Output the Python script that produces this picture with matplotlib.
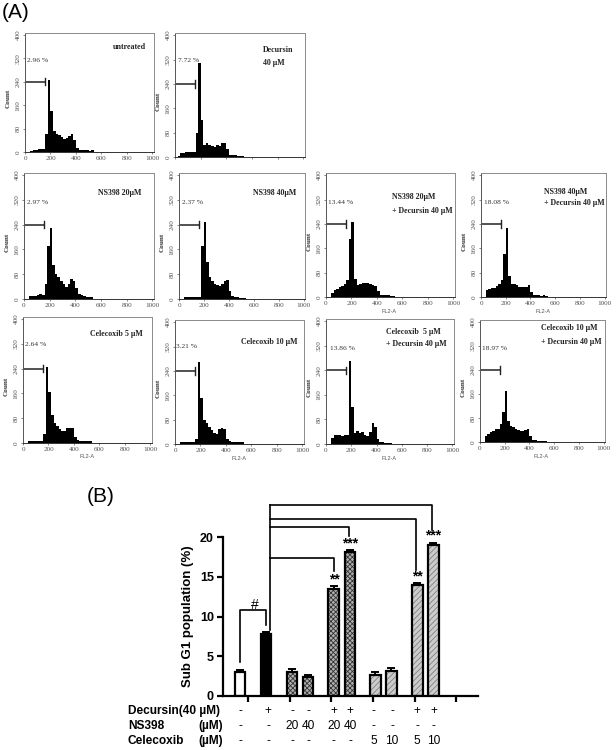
import matplotlib
matplotlib.use('Agg')
import numpy as np
from matplotlib import pyplot as plt

W, H = 616, 750
SANS = ['Liberation Sans', 'DejaVu Sans']
SERIF = ['Liberation Serif', 'DejaVu Serif']

# histogram bins, FL2-A
bin_edges = list(range(0, 580, 20))

untreated = [0, 0, 3, 7, 8, 10, 11, 9, 60, 245, 140, 72, 62, 58, 50, 46, 48, 55, 60, 42, 15, 6, 6, 7, 6, 5, 6, 0]
decursin = [0, 2, 12, 14, 15, 18, 17, 15, 80, 310, 120, 40, 45, 40, 36, 32, 38, 35, 47, 45, 25, 6, 5, 5, 4, 4, 2, 0]
ns20 = [0, 0, 10, 10, 9, 12, 15, 12, 50, 170, 230, 110, 80, 70, 58, 48, 40, 50, 65, 58, 35, 15, 12, 10, 8, 8, 6, 0]
ns40 = [0, 0, 6, 8, 7, 6, 7, 6, 7, 170, 250, 120, 72, 58, 50, 45, 42, 50, 58, 62, 25, 10, 8, 5, 4, 4, 3, 0]
ns20_dec = [0, 0, 12, 22, 25, 32, 36, 42, 55, 190, 245, 60, 40, 42, 45, 47, 45, 43, 40, 35, 20, 8, 5, 5, 5, 4, 2, 0]
ns40_dec = [0, 0, 22, 25, 28, 30, 35, 42, 55, 140, 225, 70, 42, 42, 38, 34, 32, 32, 32, 38, 18, 8, 5, 5, 3, 5, 4, 0]
cel5 = [0, 0, 6, 6, 5, 5, 5, 6, 30, 245, 165, 90, 65, 55, 46, 40, 38, 50, 48, 48, 18, 10, 6, 5, 5, 6, 5, 0]
cel10 = [0, 0, 6, 6, 5, 5, 6, 5, 15, 270, 150, 80, 68, 55, 45, 35, 32, 48, 52, 48, 15, 10, 8, 7, 7, 6, 5, 0]
cel5_dec = [0, 0, 18, 28, 28, 28, 26, 28, 30, 270, 120, 35, 42, 35, 40, 30, 25, 40, 68, 55, 15, 6, 5, 4, 4, 3, 0, 0]
cel10_dec = [0, 0, 20, 27, 32, 36, 43, 43, 60, 100, 170, 70, 55, 50, 45, 40, 38, 38, 40, 42, 20, 8, 6, 5, 4, 3, 2, 0]

# sub G1 bars
bar_values = [3.0, 7.75, 3.0, 2.4, 13.45, 18.1, 2.65, 3.2, 13.9, 19.0]
bar_errors = [0.25, 0.3, 0.35, 0.3, 0.35, 0.3, 0.4, 0.3, 0.3, 0.3]
decursin_row = ['-', '+', '-', '-', '+', '+', '-', '-', '+', '+']
ns398_row = ['-', '-', '20', '40', '20', '40', '-', '-', '-', '-']
celecoxib_row = ['-', '-', '-', '-', '-', '-', '5', '10', '5', '10']

plt.rcParams['hatch.linewidth'] = 0.6
fig = plt.figure(figsize=(W / 100, H / 100), dpi=100)


def px_text(x, y, s, **kw):
    # text placed by pixel position of the image
    kw.setdefault('family', SERIF)
    kw.setdefault('va', 'center')
    fig.text(x / W, 1 - y / H, s, **kw)


def histograma(box, valores, pct, pct_pos, titulos, xticks=True, xlabel=False):
    left, right, top, bottom = box
    ax = fig.add_axes([left / W, 1 - bottom / H, (right - left) / W, (bottom - top) / H])
    ax.stairs(valores, bin_edges, fill=True, color='black', lw=0.3)
    ax.set_xlim(0, 1012)
    ax.set_ylim(0, 407)
    # gate marker
    ax.plot([0, 158], [240, 240], color='#222222', lw=1.1)
    ax.plot([158, 158], [228, 252], color='#222222', lw=1.0)
    ax.set_xticks([0, 200, 400, 600, 800, 1000])
    ax.set_yticks([0, 80, 160, 240, 320, 400])
    ax.tick_params(length=1.5, width=0.5, pad=1.5, labelsize=5.2, colors='#555555')
    if not xticks:
        ax.set_xticklabels([])
    for t in ax.get_xticklabels() + ax.get_yticklabels():
        t.set_family(SERIF)
    for t in ax.get_yticklabels():
        t.set_rotation(90)
        t.set_va('center')
    for s in ax.spines.values():
        s.set_color('#8a8a8a')
        s.set_linewidth(0.7)
    ax.spines['bottom'].set_color('#333333')
    ax.spines['left'].set_color('#555555')
    px_text(left - 17, (top + bottom) / 2 + 6, 'Count', rotation=90, fontsize=5.2,
            ha='center', color='#333333', fontweight='bold')
    if xlabel:
        px_text((left + right) / 2 - 1, bottom + 14, 'FL2-A', family=SANS, fontsize=4,
                ha='center', color='#555555')
    px_text(pct_pos[0], pct_pos[1], pct, fontsize=5.4, ha='center', color='#333333')
    for x, y, s, ha in titulos:
        px_text(x, y, s, fontsize=5.7, ha=ha, fontweight='bold', color='#222222')


histograma((25, 154, 33, 152), untreated, '2.96 %', (38, 60), [(129, 47, 'untreated', 'center')])
histograma((175, 305, 33, 157), decursin, '7.72 %', (189, 60),
           [(263, 50, 'Decursin', 'left'), (263, 63, '40 µM', 'left')], xticks=False)
histograma((24, 154, 173, 299), ns20, '2.97 %', (38, 202), [(120, 193, 'NS398 20µM', 'center')])
histograma((179, 305, 173, 299), ns40, '2.37 %', (193, 202), [(275, 193, 'NS398 40µM', 'center')])
histograma((326, 455, 173, 297), ns20_dec, '13.44 %', (341, 202),
           [(392, 197, 'NS398 20µM', 'left'), (392, 211, '+ Decursin 40 µM', 'left')], xlabel=True)
histograma((481, 606, 173, 297), ns40_dec, '18.08 %', (497, 202),
           [(544, 192, 'NS398 40µM', 'left'), (544, 203, '+ Decursin 40 µM', 'left')], xlabel=True)
histograma((23, 152, 317, 443), cel5, '2.64 %', (36, 344), [(116, 334, 'Celecoxib 5 µM', 'center')], xlabel=True)
histograma((175, 304, 320, 444), cel10, '3.21 %', (187, 347), [(269, 342, 'Celecoxib 10 µM', 'center')], xlabel=True)
histograma((326, 454, 319, 444), cel5_dec, '13.86 %', (342, 348),
           [(386, 332, 'Celecoxib  5 µM', 'left'), (386, 344, '+ Decursin 40 µM', 'left')], xlabel=True)
histograma((480, 605, 320, 442), cel10_dec, '18.97 %', (495, 348),
           [(541, 328, 'Celecoxib 10 µM', 'left'), (541, 342, '+ Decursin 40 µM', 'left')], xlabel=True)

px_text(2, 13, '(A)', family=SANS, fontsize=15, ha='left')
px_text(87, 497, '(B)', family=SANS, fontsize=15, ha='left')

# panel B
ax = fig.add_axes([223 / W, 1 - 696 / H, 255 / W, 159 / H])
ax.patch.set_alpha(0)
bar_x = [2.04, 5.16, 8.28, 10.2, 13.3, 15.24, 18.28, 20.2, 23.32, 25.24]
cores = ['white', 'black', '#b0b0b0', '#b0b0b0', '#b0b0b0', '#b0b0b0', '#cccccc', '#cccccc', '#cccccc', '#cccccc']
hatches = ['', '', 'xxxxxxx', 'xxxxxxx', 'xxxxxxx', 'xxxxxxx', '//////', '//////', '//////', '//////']
cor_hatch = ['white', 'black', '#333333', '#333333', '#333333', '#333333', '#808080', '#808080', '#808080', '#808080']
for x, v, c, h, ch in zip(bar_x, bar_values, cores, hatches, cor_hatch):
    ax.bar(x, v, width=1.3, facecolor=c, hatch=h, edgecolor=ch, linewidth=0, zorder=2)
    ax.bar(x, v, width=1.3, facecolor='none', edgecolor='black', linewidth=1.6, zorder=3)
ax.errorbar(bar_x, bar_values, yerr=[np.zeros(10), bar_errors], fmt='none', ecolor='black',
            elinewidth=1.4, capsize=2.6, capthick=1.4, zorder=1)
ax.set_xlim(0, 30.6)
ax.set_ylim(0, 20)
ax.set_yticks([0, 5, 10, 15, 20])
ax.set_xticks([3, 8, 13, 18, 23, 28])
ax.set_xticklabels([])
ax.tick_params(width=1.6, length=4.5)
ax.tick_params(axis='y', labelsize=9, pad=2)
for t in ax.get_yticklabels():
    t.set_family(SANS)
    t.set_fontweight('bold')
ax.set_ylabel('Sub G1 population (%)', fontsize=9.5, family=SANS, fontweight='bold')
ax.yaxis.set_label_coords(-0.114, 0.505)
ax.spines['top'].set_visible(False)
ax.spines['right'].set_visible(False)
ax.spines['left'].set_linewidth(1.6)
ax.spines['bottom'].set_linewidth(1.6)

# brackets
colchetes = [([5.6, 5.6], [8.3, 24.07]),
             ([5.6, 25.08, 25.08], [24.07, 24.07, 20.9]),
             ([5.6, 23.12, 23.12], [22.3, 22.3, 15.9]),
             ([5.6, 15.12, 15.12], [21.2, 21.2, 20.1]),
             ([5.6, 13.32, 13.32], [17.3, 17.3, 15.7]),
             ([5.2, 5.2, 2.04, 2.04], [8.95, 10.84, 10.84, 4.3])]
for xs, ys in colchetes:
    ax.plot(xs, ys, color='black', lw=1.2, clip_on=False)
estrelas = [(13.4, 14.6, '**'), (15.24, 19.2, '***'), (23.32, 15.0, '**'), (25.24, 20.2, '***')]
for x, y, s in estrelas:
    ax.text(x, y, s, ha='center', va='center', fontsize=10, family=SANS, fontweight='bold')
ax.text(3.8, 11.4, '#', ha='center', va='center', fontsize=10, family=SANS)

# treatment table
col_x = [2.04, 5.4, 8.28, 10.2, 13.3, 15.24, 18.1, 20.3, 23.3, 25.3]
linhas = [(-1.9, decursin_row), (-3.78, ns398_row), (-5.67, celecoxib_row)]
for y, linha in linhas:
    for x, s in zip(col_x, linha):
        ax.text(x, y, s, ha='center', va='center', fontsize=8.6, family=SANS, clip_on=False)
px_text(128, 711, 'Decursin(40 µM)', family=SANS, fontsize=8.6, ha='left', fontweight='bold')
px_text(128, 726, 'NS398', family=SANS, fontsize=8.6, ha='left', fontweight='bold')
px_text(198, 726, '(µM)', family=SANS, fontsize=8.6, ha='left', fontweight='bold')
px_text(128, 741, 'Celecoxib', family=SANS, fontsize=8.6, ha='left', fontweight='bold')
px_text(198, 741, '(µM)', family=SANS, fontsize=8.6, ha='left', fontweight='bold')

fig.savefig('out.png', dpi=100)
